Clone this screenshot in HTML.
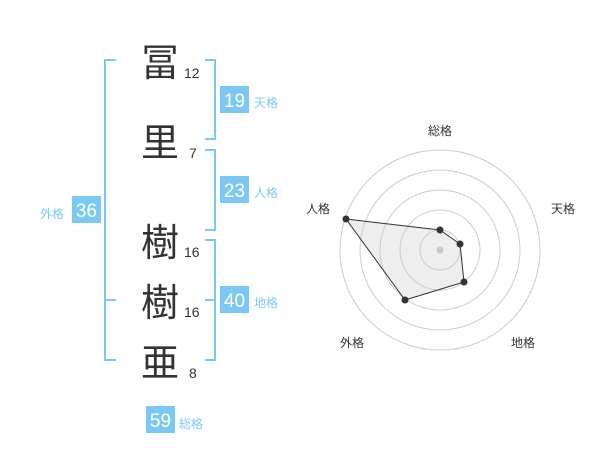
<!DOCTYPE html>
<html><head><meta charset="utf-8"><style>
html,body{margin:0;padding:0;background:#fff;width:600px;height:470px;overflow:hidden}
svg text{font-family:"Liberation Sans","Noto Sans CJK JP",sans-serif}
</style></head><body>
<svg width="600" height="470" viewBox="0 0 600 470" xmlns="http://www.w3.org/2000/svg">
<g stroke="#7cc8f5" stroke-width="2" fill="none">
<path d="M116 60H105V360H116M105 300H116"/>
<path d="M205 60H215V139H205"/>
<path d="M205 150H215V230H205"/>
<path d="M205 240H215V360H205M205 300H215"/>
</g>
<g fill="#7cc8f5">
<rect x="220" y="86" width="29" height="27"/>
<rect x="220" y="176" width="29" height="27"/>
<rect x="220" y="286" width="29" height="27"/>
<rect x="72" y="196" width="29" height="27"/>
<rect x="146" y="406" width="29" height="27"/>
</g>
<g fill="#fff" font-size="19" text-anchor="middle">
<text x="234.5" y="107">19</text>
<text x="234.5" y="197">23</text>
<text x="234.5" y="307">40</text>
<text x="86.5" y="217">36</text>
<text x="160.5" y="427">59</text>
</g>
<g fill="#7cc8f5" font-size="12">
<text x="254" y="107">天格</text>
<text x="254" y="197">人格</text>
<text x="254" y="307">地格</text>
<text x="40" y="218">外格</text>
<text x="179" y="428">総格</text>
</g>
<g fill="#333" font-size="38" text-anchor="middle">
<text x="160" y="76">冨</text>
<text x="160" y="156">里</text>
<text x="160" y="256">樹</text>
<text x="160" y="316">樹</text>
<text x="160" y="376">亜</text>
</g>
<g fill="#333" font-size="14">
<text x="184" y="78">12</text>
<text x="189" y="158">7</text>
<text x="184" y="257">16</text>
<text x="184" y="317">16</text>
<text x="189" y="378">8</text>
</g>
<g stroke="#ccc" stroke-width="1" fill="none">
<circle cx="440" cy="250" r="20"/>
<circle cx="440" cy="250" r="40"/>
<circle cx="440" cy="250" r="60"/>
<circle cx="440" cy="250" r="80"/>
<circle cx="440" cy="250" r="100"/>
</g>
<circle cx="440" cy="250" r="3.5" fill="#ccc"/>
<polygon points="440,230 460,244 464,282 405,300 346,219" fill="rgba(200,200,200,0.3)" stroke="#333" stroke-width="1"/>
<g fill="#333">
<circle cx="440" cy="230" r="3.5"/><circle cx="460" cy="244" r="3.5"/><circle cx="464" cy="282" r="3.5"/><circle cx="405" cy="300" r="3.5"/><circle cx="346" cy="219" r="3.5"/>
</g>
<g fill="#333" font-size="12" text-anchor="middle">
<text x="440" y="135">総格</text>
<text x="563" y="213">天格</text>
<text x="523" y="347">地格</text>
<text x="352" y="347">外格</text>
<text x="318" y="213">人格</text>
</g>
</svg>
</body></html>
